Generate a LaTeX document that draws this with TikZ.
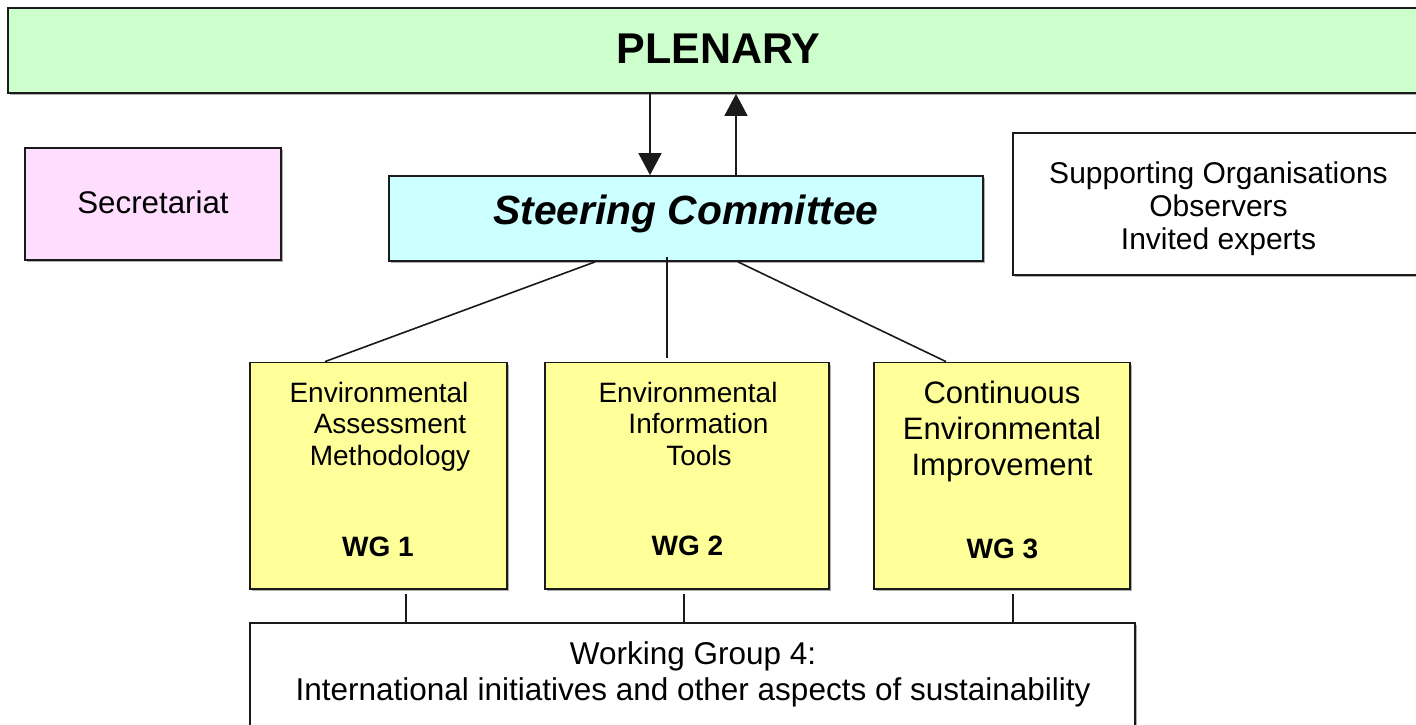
\documentclass[tikz,border=0pt]{standalone}
\usepackage{fontspec}
\setmainfont{Liberation Sans}
\usetikzlibrary{arrows.meta,shadows}
\definecolor{plengreen}{HTML}{CCFFCC}
\definecolor{secpink}{HTML}{FFDDFF}
\definecolor{steercyan}{HTML}{CCFFFF}
\definecolor{wgyellow}{HTML}{FFFF99}
\definecolor{edgecol}{HTML}{1A1A1A}
\tikzset{
  boxstyle/.style={rectangle, draw=edgecol, line width=1.8pt, inner sep=0pt,
    drop shadow={shadow xshift=2pt, shadow yshift=-2pt, fill=black!45, opacity=0.7}},
  conn/.style={draw=edgecol, line width=1.6pt},
  arrowconn/.style={conn, -{Triangle[length=22pt,width=23pt]}},
  txt/.style={inner sep=0pt, anchor=base, align=center},
}
\begin{document}
\begin{tikzpicture}[x=1pt,y=-1pt]
\fill[white] (0,0) rectangle (1416,724);
\clip (0,0) rectangle (1416,724);

% boxes
\node[boxstyle, fill=plengreen, minimum width=1421pt, minimum height=85pt,
      text height=31pt, text depth=6pt, font=\fontsize{43}{46}\selectfont\bfseries]
  (plenary) at (718.5,50.5) {PLENARY};
\node[boxstyle, fill=secpink, minimum width=256pt, minimum height=112pt,
      text height=22pt, text depth=4pt, font=\fontsize{31.3}{34}\selectfont]
  (sec) at (153,204) {Secretariat};
\node[boxstyle, fill=steercyan, minimum width=594pt, minimum height=85pt,
      text height=29pt, text depth=17pt, font=\fontsize{40.8}{44}\selectfont\bfseries\itshape]
  (steer) at (686,218.5) {Steering Committee};
\node[boxstyle, fill=white, minimum width=411pt, minimum height=142pt]
  (supp) at (1218.5,204) {};
\node[boxstyle, fill=wgyellow, minimum width=257pt, minimum height=226.5pt]
  (wg1) at (378.5,475.75) {};
\node[boxstyle, fill=wgyellow, minimum width=284pt, minimum height=226.5pt]
  (wg2) at (687,475.75) {};
\node[boxstyle, fill=wgyellow, minimum width=256pt, minimum height=226.5pt]
  (wg3) at (1002,475.75) {};
\node[boxstyle, fill=white, minimum width=885pt, minimum height=147pt]
  (wg4) at (692.5,696.5) {};

% texts (anchor base = baseline of the last line)
\node[txt, font=\fontsize{30}{33}\selectfont] (suppText) at (1218.5,249)
  {Supporting Organisations\\Observers\\Invited experts};
\node[txt, font=\fontsize{28}{31.5}\selectfont] (wg1Text) at (379,465)
  {Environmental\\\hspace*{22pt}Assessment\\\hspace*{22pt}Methodology};
\node[txt, font=\fontsize{28}{31.5}\selectfont] (wg2Text) at (688,465)
  {Environmental\\\hspace*{21pt}Information\\\hspace*{22pt}Tools};
\node[txt, font=\fontsize{31}{36}\selectfont] (wg3Text) at (1002,475)
  {Continuous\\Environmental\\Improvement};
\node[txt, font=\fontsize{28}{31}\selectfont\bfseries] (wg1Label) at (378,556) {WG 1};
\node[txt, font=\fontsize{28}{31}\selectfont\bfseries] (wg2Label) at (687.5,555) {WG 2};
\node[txt, font=\fontsize{28}{31}\selectfont\bfseries] (wg3Label) at (1002.5,558) {WG 3};
\node[txt, font=\fontsize{31.5}{35.7}\selectfont] (wg4Text) at (693,700)
  {Working Group 4:\\International initiatives and other aspects of sustainability};

% helper coordinates for connector x positions
\coordinate (xdown) at (650,0);
\coordinate (xup) at (736,0);
\coordinate (xb1) at (406,0);
\coordinate (xb2) at (684,0);
\coordinate (xb3) at (1013,0);

% arrows between plenary and steering committee
\draw[arrowconn] (plenary.south -| xdown) -- (steer.north -| xdown);
\draw[arrowconn] (steer.north -| xup) -- (plenary.south -| xup);

% steering committee to working groups
\draw[conn] ([xshift=-91pt]steer.south) -- ([xshift=-53.5pt]wg1.north);
\draw[conn] ([xshift=-19pt,yshift=5pt]steer.south) -- ([xshift=-20pt,yshift=4pt]wg2.north);
\draw[conn] ([xshift=52pt]steer.south) -- ([xshift=-56pt]wg3.north);

% working groups to WG4
\draw[conn] ([yshift=-4pt]wg1.south -| xb1) -- (wg4.north -| xb1);
\draw[conn] ([yshift=-4pt]wg2.south -| xb2) -- (wg4.north -| xb2);
\draw[conn] ([yshift=-4pt]wg3.south -| xb3) -- (wg4.north -| xb3);
\end{tikzpicture}
\end{document}
